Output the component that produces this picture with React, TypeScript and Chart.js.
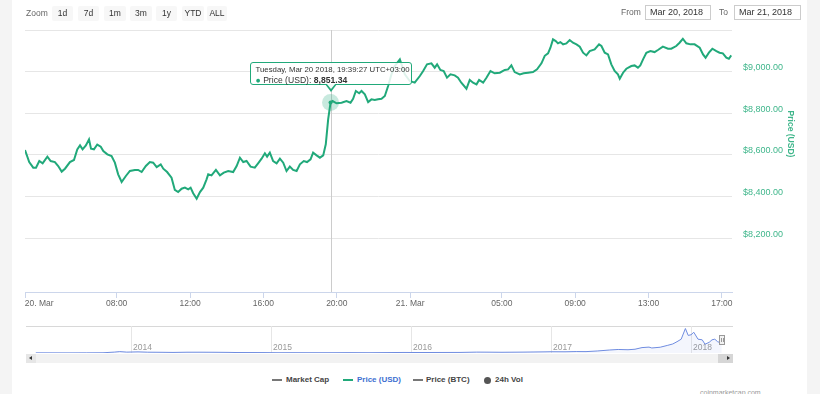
import React, { useEffect, useRef, useState } from 'react';
import { Chart, registerables } from 'chart.js';

Chart.register(...registerables);

const GREEN = '#21a97a';
const FONT = '"Liberation Sans", Arial, Helvetica, sans-serif';

// Hours after 20 Mar 2018 00:00 (UTC+03:00)
const priceHours = [
  3.0, 3.23, 3.45, 3.6, 3.78, 3.96, 4.22, 4.4, 4.63, 4.81, 5.0, 5.18, 5.45, 5.67, 5.85, 6.0, 6.14, 6.32, 6.49, 6.6,
  6.76, 6.94, 7.13, 7.27, 7.49, 7.72, 7.9, 8.08, 8.27, 8.5, 8.72, 8.99, 9.17, 9.36, 9.59, 9.81, 9.99, 10.18, 10.4, 10.54,
  10.75, 10.99, 11.17, 11.35, 11.54, 11.72, 11.9, 12.03, 12.17, 12.36, 12.54, 12.72, 12.9, 12.99, 13.17, 13.41, 13.63, 13.84, 14.08, 14.35,
  14.54, 14.72, 14.9, 15.08, 15.3, 15.53, 15.71, 15.9, 16.08, 16.2, 16.35, 16.53, 16.72, 16.9, 17.08, 17.26, 17.44, 17.62, 17.81, 17.99,
  18.2, 18.38, 18.57, 18.71, 18.9, 19.08, 19.26, 19.4, 19.53, 19.66, 19.77, 19.99, 20.26, 20.53, 20.75, 20.89, 21.04, 21.22, 21.35, 21.53,
  21.71, 21.89, 22.07, 22.25, 22.44, 22.62, 22.8, 22.98, 23.16, 23.44, 23.71, 23.98, 24.25, 24.53, 24.71, 24.92, 25.16, 25.34, 25.47, 25.65,
  25.83, 26.01, 26.2, 26.43, 26.61, 26.79, 27.07, 27.25, 27.43, 27.62, 27.76, 27.98, 28.16, 28.38, 28.61, 28.89, 29.16, 29.34, 29.52, 29.7,
  29.98, 30.19, 30.43, 30.7, 30.92, 31.16, 31.34, 31.52, 31.65, 31.79, 31.94, 32.06, 32.19, 32.34, 32.52, 32.7, 32.88, 33.07, 33.25, 33.43,
  33.61, 33.79, 34.06, 34.3, 34.43, 34.61, 34.79, 34.97, 35.15, 35.33, 35.43, 35.61, 35.79, 36.06, 36.24, 36.42, 36.55, 36.7, 36.88, 37.1,
  37.33, 37.51, 37.78, 38.06, 38.24, 38.51, 38.69, 38.87, 39.06, 39.28, 39.51, 39.79, 39.97, 40.11, 40.29, 40.48, 40.7, 40.87, 41.05, 41.24,
  41.38, 41.51,
];
const priceUsd = [
  8624, 8566, 8539, 8539, 8571, 8560, 8592, 8571, 8566, 8547, 8520, 8534, 8566, 8576, 8627, 8646, 8627, 8646, 8675, 8630,
  8627, 8650, 8640, 8619, 8603, 8595, 8563, 8507, 8470, 8499, 8523, 8528, 8528, 8518, 8547, 8566, 8563, 8542, 8555, 8534,
  8518, 8491, 8432, 8422, 8438, 8443, 8435, 8443, 8416, 8390, 8422, 8443, 8483, 8507, 8502, 8528, 8502, 8515, 8523, 8518,
  8547, 8587, 8566, 8571, 8544, 8539, 8560, 8582, 8608, 8592, 8611, 8571, 8560, 8582, 8563, 8523, 8544, 8528, 8523, 8555,
  8571, 8566, 8579, 8611, 8598, 8587, 8598, 8651, 8771, 8851.34, 8859, 8848, 8851, 8859, 8851, 8870, 8907, 8896, 8907, 8891,
  8854, 8867, 8864, 8867, 8870, 8883, 8931, 8987, 9027, 9059, 8987, 8955, 8947, 8979, 9003, 9035, 9040, 9019, 9035, 9008,
  9003, 8971, 8987, 8982, 8971, 8947, 8918, 8960, 8947, 8939, 8960, 8947, 8971, 9003, 8992, 8995, 9008, 9011, 9030, 8998,
  8987, 8992, 8995, 8998, 9011, 9040, 9076, 9088, 9115, 9155, 9147, 9136, 9142, 9131, 9136, 9152, 9139, 9131, 9120, 9091,
  9078, 9099, 9107, 9131, 9123, 9091, 9083, 9035, 9003, 8987, 8966, 8995, 9014, 9027, 9030, 9019, 9030, 9059, 9091, 9099,
  9094, 9104, 9120, 9110, 9110, 9123, 9139, 9158, 9136, 9131, 9131, 9115, 9083, 9067, 9091, 9110, 9099, 9091, 9088, 9067,
  9062, 9078,
];

const tipHour = 19.66;
const tipTitle = 'Tuesday, Mar 20 2018, 19:39:27 UTC+03:00';
const seriesName = 'Price (USD)';

const xTickHours = [3, 8, 12, 16, 20, 24, 29, 33, 37, 41];
const xTickLabels = ['20. Mar', '08:00', '12:00', '16:00', '20:00', '21. Mar', '05:00', '09:00', '13:00', '17:00'];
const yTickValues = [8200, 8400, 8600, 8800, 9000, 9200];

// Navigator: whole history (decimal years) and price
const navYears = [
  2013.32, 2013.45, 2013.55, 2013.68, 2013.8, 2013.88, 2013.92, 2013.97, 2014.05, 2014.12, 2014.2, 2014.3, 2014.4, 2014.5,
  2014.6, 2014.7, 2014.75, 2014.85, 2014.95, 2015.05, 2015.15, 2015.3, 2015.45, 2015.55, 2015.7, 2015.85, 2015.95, 2016.05,
  2016.2, 2016.35, 2016.47, 2016.55, 2016.65, 2016.8, 2016.95, 2017.0, 2017.1, 2017.18, 2017.25, 2017.33, 2017.42, 2017.48,
  2017.55, 2017.6, 2017.65, 2017.7, 2017.72, 2017.78, 2017.83, 2017.87, 2017.9, 2017.93, 2017.96, 2017.98, 2018.0, 2018.02,
  2018.05, 2018.08, 2018.1, 2018.13, 2018.15, 2018.17, 2018.19, 2018.21, 2018.22,
];
const navPrices = [
  135, 110, 90, 130, 190, 700, 1100, 700, 900, 640, 580, 450, 620, 630,
  580, 480, 380, 360, 330, 220, 250, 230, 240, 290, 240, 360, 430, 380,
  420, 450, 700, 660, 580, 700, 900, 1000, 960, 1150, 1100, 1600, 2400, 2800,
  2600, 3000, 4300, 4700, 4000, 4600, 6000, 7200, 9000, 11000, 19500, 14000, 14500, 16500,
  11000, 10500, 7000, 8500, 10500, 11000, 9000, 8200, 8800,
];
const navYearTicks = [2014, 2015, 2016, 2017, 2018];

const zoomButtons = ['1d', '7d', '1m', '3m', '1y', 'YTD', 'ALL'];
const zoomLeft = [52, 78, 104, 130, 156, 182, 207];
const zoomWidth = [21, 21, 22, 22, 21, 22, 20];

const fromDate = 'Mar 20, 2018';
const toDate = 'Mar 21, 2018';

const legendNames = ['Market Cap', 'Price (USD)', 'Price (BTC)', '24h Vol'];

const TIP_INDEX = priceHours.indexOf(tipHour);

function fmtUsd(v: number): string {
  const [i, d] = v.toFixed(2).split('.');
  return '$' + i.replace(/\B(?=(\d{3})+$)/g, ',') + '.' + d;
}
function fmtNum(v: number): string {
  const [i, d] = v.toFixed(2).split('.');
  return i.replace(/\B(?=(\d{3})+$)/g, ',') + '.' + d;
}

const decorPlugin = {
  id: 'decor',
  beforeDatasetsDraw(chart: any) {
    const act = chart.getActiveElements();
    if (!act.length) return;
    const { ctx, chartArea } = chart;
    const x = Math.round(act[0].element.x) + 0.5;
    ctx.save();
    ctx.strokeStyle = '#cccccc';
    ctx.lineWidth = 1;
    ctx.beginPath();
    ctx.moveTo(x, chartArea.top);
    ctx.lineTo(x, chartArea.bottom);
    ctx.stroke();
    ctx.restore();
  },
  afterDatasetsDraw(chart: any) {
    const act = chart.getActiveElements();
    if (!act.length) return;
    const { ctx } = chart;
    const el = act[0].element;
    ctx.save();
    ctx.fillStyle = GREEN;
    ctx.beginPath();
    ctx.arc(el.x, el.y, 2, 0, Math.PI * 2);
    ctx.fill();
    ctx.restore();
  },
  afterDraw(chart: any) {
    const { ctx } = chart;
    ctx.save();
    ctx.translate(778.7, 134);
    ctx.rotate(Math.PI / 2);
    ctx.fillStyle = '#3fb68b';
    ctx.font = `bold 8.5px ${FONT}`;
    ctx.textAlign = 'center';
    ctx.textBaseline = 'middle';
    ctx.fillText(seriesName, 0, 0);
    ctx.restore();
  },
};

export default function App() {
  const mainRef = useRef<HTMLCanvasElement>(null);
  const navRef = useRef<HTMLCanvasElement>(null);
  const [tip, setTip] = useState<{ x: number; y: number } | null>(null);

  useEffect(() => {
    const main = new Chart(mainRef.current as HTMLCanvasElement, {
      type: 'line',
      data: {
        datasets: [
          {
            label: seriesName,
            data: priceHours.map((h, i) => ({ x: h, y: priceUsd[i] })),
            borderColor: GREEN,
            borderWidth: 2,
            pointRadius: 0,
            pointHoverRadius: 8.5,
            pointHoverBackgroundColor: 'rgba(33,169,122,0.25)',
            pointHoverBorderWidth: 0,
            pointHoverBorderColor: 'rgba(0,0,0,0)',
            tension: 0,
            fill: false,
          },
        ],
      },
      options: {
        animation: false,
        responsive: false,
        devicePixelRatio: 1,
        events: [],
        layout: { padding: { left: 13, top: 30, right: 0, bottom: 0 } },
        plugins: { legend: { display: false }, tooltip: { enabled: false } },
        scales: {
          x: {
            type: 'linear',
            min: 3,
            max: 41.55,
            afterBuildTicks: (s: any) => {
              s.ticks = xTickHours.map((v) => ({ value: v }));
            },
            afterFit: (s: any) => {
              s.height = 20;
              s.paddingLeft = 0;
              s.paddingRight = 0;
            },
            ticks: {
              autoSkip: false,
              maxRotation: 0,
              padding: 1,
              color: '#666666',
              font: { family: FONT, size: 8.5 },
              callback: (v: any) => {
                const i = xTickHours.indexOf(Number(v));
                if (i < 0) return '';
                return i === 0 ? '            ' + xTickLabels[i] : xTickLabels[i];
              },
            },
            grid: { drawOnChartArea: false, color: '#ccd6eb', tickLength: 6 },
            border: { color: '#ccd6eb' },
          },
          y: {
            position: 'right',
            min: 7942,
            max: 9200,
            afterBuildTicks: (s: any) => {
              s.ticks = yTickValues.map((v) => ({ value: v }));
            },
            afterFit: (s: any) => {
              s.width = 75;
            },
            ticks: {
              padding: 11,
              labelOffset: -4,
              color: '#3fb68b',
              font: { family: FONT, size: 9 },
              callback: (v: any) => (Number(v) === 9200 ? '' : fmtUsd(Number(v))),
            },
            grid: { color: '#e6e6e6', drawTicks: false },
            border: { display: false },
          },
        },
      },
      plugins: [decorPlugin],
    } as any);

    main.setActiveElements([{ datasetIndex: 0, index: TIP_INDEX }]);
    main.update();
    const el: any = main.getDatasetMeta(0).data[TIP_INDEX];
    setTip({ x: el.x, y: el.y });

    const nav = new Chart(navRef.current as HTMLCanvasElement, {
      type: 'line',
      data: {
        datasets: [
          {
            data: navYears.map((x, i) => ({ x, y: navPrices[i] })),
            borderColor: '#6f8ce0',
            borderWidth: 1,
            backgroundColor: 'rgba(111,140,224,0.08)',
            fill: 'origin',
            pointRadius: 0,
            tension: 0,
          },
        ],
      },
      options: {
        animation: false,
        responsive: false,
        devicePixelRatio: 1,
        events: [],
        layout: { padding: { top: 6, bottom: 1, left: 0, right: 0 } },
        plugins: { legend: { display: false }, tooltip: { enabled: false } },
        scales: {
          x: {
            type: 'linear',
            min: 2013.25,
            max: 2018.3,
            afterBuildTicks: (s: any) => {
              s.ticks = navYearTicks.map((v) => ({ value: v }));
            },
            afterFit: (s: any) => {
              s.height = 0;
              s.paddingLeft = 0;
              s.paddingRight = 0;
            },
            ticks: {
              mirror: true,
              align: 'start',
              labelOffset: 2,
              padding: 0,
              autoSkip: false,
              maxRotation: 0,
              color: '#999999',
              font: { family: FONT, size: 8.5 },
              callback: (v: any) => String(v),
            },
            grid: { color: '#e6e6e6', drawTicks: false },
            border: { display: false },
          },
          y: { display: false, min: 0, max: 21500 },
        },
      },
    } as any);

    return () => {
      main.destroy();
      nav.destroy();
    };
  }, []);

  const txt: React.CSSProperties = { position: 'absolute', whiteSpace: 'nowrap', fontFamily: FONT };

  const px = tip ? 12 + tip.x : 0;
  const py = tip ? tip.y : 0;

  return (
    <div
      style={{
        position: 'fixed',
        left: 0,
        top: 0,
        width: 820,
        height: 394,
        overflow: 'hidden',
        background: '#f4f4f4',
        fontFamily: FONT,
      }}
    >
      <div style={{ position: 'absolute', left: 12, top: 0, width: 795, height: 394, background: '#ffffff' }} />

      <canvas ref={mainRef} width={795} height={312} style={{ position: 'absolute', left: 12, top: 0, width: 795, height: 312 }} />

      {/* range selector */}
      <div style={{ ...txt, left: 26, top: 7, fontSize: 8.5, lineHeight: '12px', color: '#666' }}>Zoom</div>
      {zoomButtons.map((b, i) => (
        <div
          key={b}
          style={{
            ...txt,
            left: zoomLeft[i],
            top: 6,
            width: zoomWidth[i],
            height: 15,
            lineHeight: '15px',
            textAlign: 'center',
            fontSize: 8.5,
            color: '#333',
            background: '#f7f7f7',
            borderRadius: 2,
          }}
        >
          {b}
        </div>
      ))}
      <div style={{ ...txt, left: 621, top: 6, fontSize: 8.5, lineHeight: '13px', color: '#666' }}>From</div>
      <div
        style={{
          ...txt,
          left: 645,
          top: 5,
          width: 66,
          height: 15,
          boxSizing: 'border-box',
          border: '1px solid #cccccc',
          fontSize: 9,
          lineHeight: '13px',
          paddingLeft: 4,
          color: '#333',
          background: '#fff',
        }}
      >
        {fromDate}
      </div>
      <div style={{ ...txt, left: 719, top: 6, fontSize: 8.5, lineHeight: '13px', color: '#666' }}>To</div>
      <div
        style={{
          ...txt,
          left: 734,
          top: 5,
          width: 67,
          height: 15,
          boxSizing: 'border-box',
          border: '1px solid #cccccc',
          fontSize: 9,
          lineHeight: '13px',
          paddingLeft: 4,
          color: '#333',
          background: '#fff',
        }}
      >
        {toDate}
      </div>

      {/* tooltip */}
      {tip && (
        <>
          <div
            style={{
              position: 'absolute',
              left: px - 6,
              top: py - 19,
              width: 0,
              height: 0,
              borderLeft: '6px solid transparent',
              borderRight: '6px solid transparent',
              borderTop: `8px solid ${GREEN}`,
            }}
          />
          <div
            style={{
              position: 'absolute',
              left: px - 81,
              top: py - 41,
              width: 162,
              height: 23,
              boxSizing: 'border-box',
              border: `1px solid ${GREEN}`,
              borderRadius: 3,
              background: 'rgba(255,255,255,0.85)',
              padding: '2px 0 0 5px',
              fontFamily: FONT,
              color: '#333',
              whiteSpace: 'nowrap',
            }}
          >
            <div style={{ fontSize: 7.8, lineHeight: '10px' }}>{tipTitle}</div>
            <div style={{ fontSize: 8.6, lineHeight: '10px' }}>
              <span style={{ color: GREEN }}>●</span> {seriesName}: <b>{fmtNum(priceUsd[TIP_INDEX])}</b>
            </div>
          </div>
          <div
            style={{
              position: 'absolute',
              left: px - 5,
              top: py - 20,
              width: 0,
              height: 0,
              borderLeft: '5px solid transparent',
              borderRight: '5px solid transparent',
              borderTop: '6px solid rgba(255,255,255,0.95)',
            }}
          />
        </>
      )}

      {/* navigator */}
      <div style={{ position: 'absolute', left: 26, top: 326, width: 707, height: 1, background: '#d8d8d8' }} />
      <canvas ref={navRef} width={707} height={34} style={{ position: 'absolute', left: 26, top: 320, width: 707, height: 34 }} />
      <div
        style={{
          position: 'absolute',
          left: 719,
          top: 335,
          width: 6,
          height: 10,
          boxSizing: 'border-box',
          border: '1px solid #999',
          background: '#f2f2f2',
        }}
      >
        <div style={{ position: 'absolute', left: 1, top: 2, width: 1, height: 4, background: '#999' }} />
        <div style={{ position: 'absolute', left: 3, top: 2, width: 1, height: 4, background: '#999' }} />
      </div>

      {/* scrollbar */}
      <div style={{ position: 'absolute', left: 26, top: 354, width: 707, height: 9, background: '#f2f2f2' }} />
      <div style={{ position: 'absolute', left: 26, top: 354, width: 10, height: 9, background: '#e6e6e6' }} />
      <div
        style={{
          position: 'absolute',
          left: 29,
          top: 356,
          width: 0,
          height: 0,
          borderTop: '2.5px solid transparent',
          borderBottom: '2.5px solid transparent',
          borderRight: '3px solid #333',
        }}
      />
      <div style={{ position: 'absolute', left: 718, top: 354, width: 15, height: 9, background: '#d6d6d6' }} />
      <div
        style={{
          position: 'absolute',
          left: 727,
          top: 356,
          width: 0,
          height: 0,
          borderTop: '2.5px solid transparent',
          borderBottom: '2.5px solid transparent',
          borderLeft: '3px solid #333',
        }}
      />

      {/* legend */}
      <div style={{ position: 'absolute', left: 272, top: 379, width: 10, height: 2, background: '#777' }} />
      <div style={{ ...txt, left: 286, top: 375, fontSize: 8, lineHeight: '10px', fontWeight: 'bold', color: '#444' }}>{legendNames[0]}</div>
      <div style={{ position: 'absolute', left: 343, top: 379, width: 10, height: 2, background: GREEN }} />
      <div style={{ ...txt, left: 357, top: 375, fontSize: 8, lineHeight: '10px', fontWeight: 'bold', color: '#3d6fd1' }}>{legendNames[1]}</div>
      <div style={{ position: 'absolute', left: 413, top: 379, width: 10, height: 2, background: '#777' }} />
      <div style={{ ...txt, left: 426, top: 375, fontSize: 8, lineHeight: '10px', fontWeight: 'bold', color: '#444' }}>{legendNames[2]}</div>
      <div style={{ position: 'absolute', left: 483.5, top: 376.5, width: 7, height: 7, borderRadius: '50%', background: '#555' }} />
      <div style={{ ...txt, left: 495, top: 375, fontSize: 8, lineHeight: '10px', fontWeight: 'bold', color: '#444' }}>{legendNames[3]}</div>

      <div style={{ ...txt, left: 700, top: 388, fontSize: 7, lineHeight: '9px', color: '#999' }}>coinmarketcap.com</div>
    </div>
  );
}
